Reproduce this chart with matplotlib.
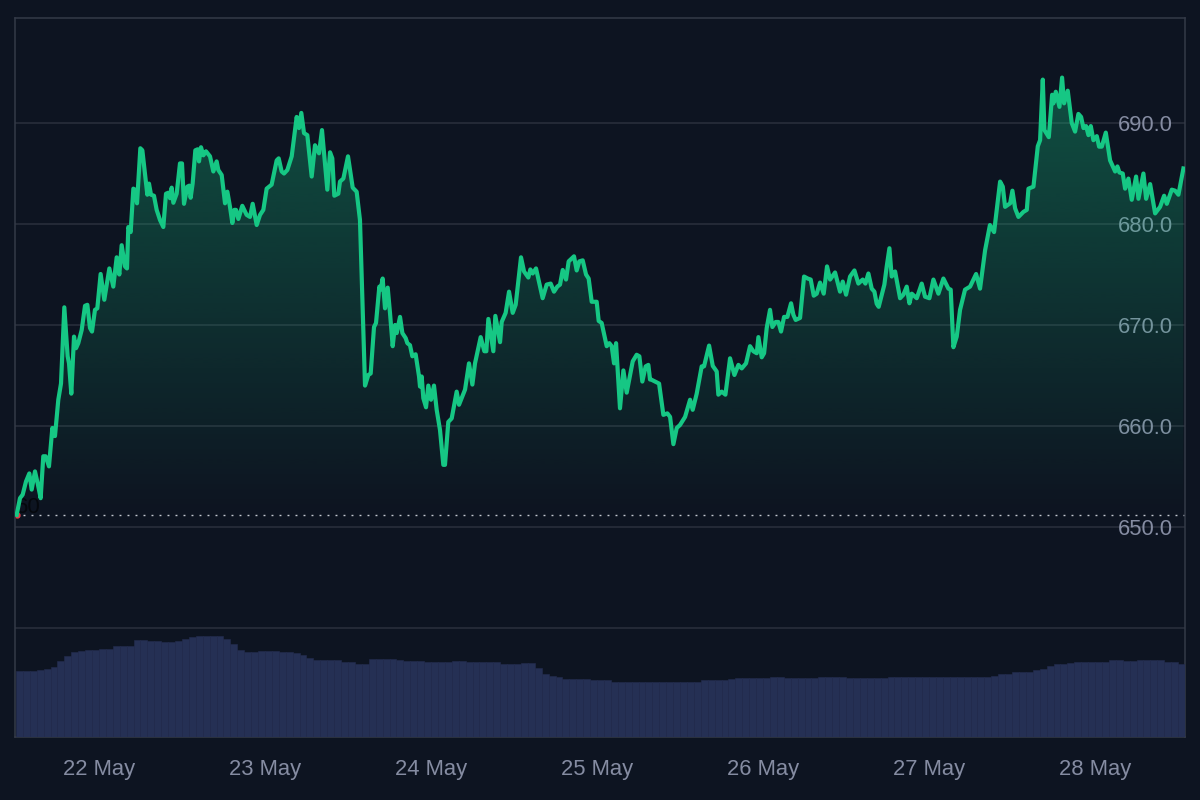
import numpy as np
import matplotlib
matplotlib.use('Agg')
import matplotlib.pyplot as plt
from matplotlib.colors import to_rgb

# price, hours counted from 22 May 00:00
hours = [
    -11.9, -11.42, -11.03, -10.55, -10.07, -9.73, -9.25, -8.86, -8.43, -8.05, -7.71, -7.23, -6.74, -6.36, -5.88, -5.49,
    -5.01, -4.53, -4.33, -4.0, -3.61, -3.32, -2.99, -2.5, -2.02, -1.68, -1.3, -1.01, -0.58, -0.24, 0.24, 0.77,
    1.5, 2.07, 2.56, 2.94, 3.28, 3.76, 4.05, 4.24, 4.58, 4.97, 5.21, 5.5, 5.98, 6.27, 6.75, 6.99,
    7.23, 7.52, 7.95, 8.34, 8.82, 9.3, 9.69, 10.03, 10.27, 10.51, 10.75, 11.23, 11.71, 12.0, 12.29, 12.77,
    13.06, 13.25, 13.54, 13.93, 14.27, 14.46, 14.75, 15.09, 15.47, 16.05, 16.53, 17.01, 17.25, 17.74, 18.22, 18.56,
    18.94, 19.28, 19.57, 19.81, 20.15, 20.72, 21.35, 21.83, 22.22, 22.8, 23.28, 23.76, 24.24, 24.96, 25.69, 25.98,
    26.41, 26.75, 27.23, 27.86, 28.58, 28.92, 29.25, 29.64, 30.12, 30.75, 31.23, 31.81, 32.24, 33.01, 33.4, 33.73,
    34.02, 34.6, 34.84, 35.33, 36.0, 36.68, 37.25, 37.73, 38.22,
    38.46, 38.94, 39.28, 39.76, 40.05, 40.53, 40.72, 41.01, 41.35, 41.74, 42.07, 42.46, 42.8, 43.04, 43.52, 43.86,
    44.34, 44.58, 44.96, 45.3, 45.78, 46.27, 46.41, 46.65, 46.89, 47.28, 47.61, 48.0, 48.43, 48.82, 49.3, 49.78,
    50.02, 50.5, 50.99, 51.71, 52.05, 52.92, 53.49, 53.98, 54.36, 55.18, 55.71, 56.0, 56.29, 57.01, 57.3, 57.98,
    58.22, 58.79, 59.28, 59.81, 60.24, 61.01, 61.45, 62.07, 62.36, 62.7, 63.18, 64.14, 64.72, 65.3, 65.78, 66.26,
    66.65, 67.04, 67.52, 67.9, 68.67, 69.06, 69.44, 69.93, 70.41, 70.79, 71.23, 71.95, 72.24, 72.67, 73.4, 73.78,
    74.12, 74.46, 74.75, 75.32, 75.81, 76.29, 77.16, 77.73, 78.12, 78.55, 79.03, 79.42, 79.66,
    79.81, 80.39, 80.97, 81.59, 82.17, 82.56, 83.04, 83.52, 84.0, 84.73, 85.45, 85.83, 86.41, 87.13, 87.47, 88.2,
    88.73, 89.3, 89.54, 90.03, 90.56, 91.23, 91.86, 92.44, 92.92, 93.54, 94.12, 94.6, 95.09, 95.33, 95.81, 96.15,
    96.53, 97.01, 97.35, 97.83, 98.22, 98.6, 99.04, 99.52, 100.05, 100.39, 100.72, 101.35, 101.93, 102.46, 102.89, 103.33,
    103.76, 104.24, 104.77, 105.25, 105.69, 106.41, 107.13, 107.52, 108.0, 108.58, 109.21, 109.78, 110.41, 110.8, 111.23, 111.71,
    112.1, 112.43, 112.72, 113.54, 113.88, 114.27, 114.6, 115.09, 115.81, 116.29, 116.77, 117.16, 117.5, 118.22, 118.94, 119.42,
    120.05, 120.63, 121.35, 122.07, 122.8, 123.13, 123.52, 124.0, 124.48, 125.2, 125.93, 126.8, 127.37, 128.1, 128.8, 129.4,
    130.27, 130.66, 130.99, 131.72, 132.05, 132.44, 132.92, 133.64, 134.13, 134.37, 135.09, 135.72, 136.05, 136.44, 136.68, 137.31,
    137.79, 137.98, 138.32, 138.85, 139.23, 139.52, 140.05, 140.63, 141.11, 141.59, 141.98, 142.32, 142.7, 143.04, 143.38, 143.76,
    144.25, 144.58, 144.97, 145.55, 146.17, 146.9, 147.23, 147.52, 148.0, 148.34, 148.82, 149.3, 149.93, 150.27, 150.99, 151.38,
    151.96, 152.68, 153.4, 153.98, 154.37, 155.09, 155.57, 156.05, 156.77,
]
price = [
    651.2, 652.85, 653.2, 654.5, 655.3, 653.7, 655.5, 654.3, 652.85, 657.0, 657.0, 656.0, 659.8, 659.0, 662.6, 664.2,
    671.75, 666.9, 666.2, 663.2, 668.85, 667.7, 668.2, 669.5, 671.9, 672.0, 669.7, 669.35, 671.5, 671.65, 675.05, 672.5,
    675.6, 673.8, 676.7, 675.0, 677.9, 675.8, 675.6, 679.7, 679.2, 683.5, 683.4, 682.05, 687.5, 687.3, 684.4, 682.9,
    684.0, 682.9, 682.8, 681.4, 680.4, 679.7, 683.0, 683.1, 682.55, 683.6, 682.1, 683.0, 686.0, 686.0, 682.0, 683.7,
    683.8, 682.6, 684.0, 687.3, 687.4, 686.2, 687.6, 686.8, 687.2, 686.7, 685.2, 686.2, 685.35, 684.85, 682.05, 683.2,
    681.7, 680.1, 681.4, 681.4, 680.5, 681.8, 680.9, 680.7, 682.0, 679.9, 680.9, 681.4, 683.5, 683.9, 686.3, 686.5,
    685.2, 685.0, 685.35, 686.7, 690.6, 689.5, 691.0, 689.0, 688.8, 684.7, 687.8, 687.0, 689.3, 683.4, 687.1, 686.5,
    682.8, 683.0, 684.2, 684.5, 686.7, 683.6, 683.2, 680.4, 669.2,
    664.0, 665.05, 665.2, 669.8, 670.2, 673.8, 673.5, 674.6, 671.65, 673.7, 671.2, 667.9, 670.0, 669.2, 670.8, 669.2,
    668.7, 668.2, 668.0, 666.9, 667.1, 664.9, 663.9, 664.9, 662.75, 661.85, 664.0, 662.6, 664.0, 661.6, 659.6, 656.15,
    656.15, 660.4, 660.75, 663.4, 662.1, 663.6, 666.2, 664.1, 666.2, 668.8, 667.4, 667.4, 670.6, 667.4, 670.9, 668.3,
    670.3, 671.2, 673.3, 671.2, 672.0, 676.7, 675.3, 674.7, 675.5, 675.1, 675.6, 672.65, 674.0, 674.1, 673.3, 673.8,
    674.0, 675.45, 674.5, 676.3, 676.8, 675.4, 676.3, 676.4, 675.0, 674.6, 672.3, 672.3, 670.4, 670.2, 667.9, 668.2,
    667.9, 666.2, 668.2, 661.75, 665.5, 663.3, 666.4, 667.05, 666.9, 664.4, 665.9, 666.05, 664.6,
    664.6, 664.4, 664.2, 661.1, 661.25, 660.9, 658.2, 659.8, 660.1, 660.9, 662.6, 661.6, 663.2, 665.9, 665.9, 667.96,
    665.95, 665.4, 663.1, 663.4, 663.1, 666.7, 665.05, 666.05, 665.7, 666.2, 667.9, 667.4, 667.2, 668.8, 666.8, 667.2,
    669.7, 671.5, 669.8, 670.3, 670.3, 669.35, 670.8, 670.8, 672.15, 671.0, 670.5, 670.7, 674.8, 674.6, 674.5, 672.9,
    673.1, 674.2, 673.1, 675.8, 674.5, 675.2, 673.3, 674.3, 673.0, 674.8, 675.4, 674.1, 674.5, 674.1, 675.1, 673.6,
    673.3, 672.1, 671.8, 674.0, 675.8, 677.6, 674.8, 675.3, 672.65, 673.0, 673.8, 672.15, 673.1, 672.65, 674.1, 672.8,
    672.65, 674.5, 673.1, 674.6, 673.6, 673.5, 667.8, 668.85, 671.5, 673.5, 673.8, 675.05, 673.6, 677.4, 679.9, 679.2,
    684.2, 683.7, 681.7, 682.05, 683.3, 681.55, 680.7, 681.2, 681.4, 683.5, 683.7, 687.7, 688.3, 694.3, 689.3, 688.6,
    692.8, 691.95, 693.1, 691.6, 694.5, 691.95, 693.2, 690.0, 689.15, 690.9, 690.6, 689.5, 689.7, 688.8, 689.7, 688.3,
    688.7, 687.66, 687.66, 689.05, 686.3, 685.2, 685.7, 685.1, 685.0, 683.5, 684.5, 682.4, 684.7, 682.5, 685.0, 682.5,
    683.95, 681.05, 681.7, 682.8, 682.0, 683.4, 683.3, 682.9, 685.5,
]
ref_price = 651.2

# hourly volume, first bar at hour -12
volume = [
    .665, .665, .665, .675, .68, .705, .765, .81, .85, .865, .87, .875,
    .88, .885, .91, .91, .915, .97, .97, .965, .96, .95, .955, .96,
    .98, 1.00, 1.01, 1.01, 1.01, 1.01, .98, .93, .87, .855, .85, .86,
    .86, .86, .855, .85, .84, .82, .79, .77, .77, .77, .77, .753,
    .75, .733, .733, .78, .783, .783, .78, .77, .76, .76, .76, .75,
    .75, .75, .75, .763, .763, .755, .75, .75, .75, .75, .733, .733,
    .733, .74, .745, .69, .63, .615, .605, .583, .583, .583, .583, .57,
    .57, .57, .555, .55, .55, .55, .55, .55, .55, .55, .55, .55,
    .55, .55, .55, .57, .57, .57, .57, .585, .59, .59, .59, .59,
    .59, .60, .603, .59, .59, .59, .59, .59, .60, .603, .603, .603,
    .59, .59, .59, .59, .59, .59, .60, .60, .60, .60, .60, .60,
    .60, .60, .60, .60, .60, .60, .605, .605, .605, .61, .63, .63,
    .653, .653, .653, .67, .68, .71, .73, .73, .74, .753, .753, .753,
    .753, .753, .77, .77, .76, .76, .77, .77, .77, .77, .75, .75,
    .733, .733,
]
volume_hours = list(range(-12, 158))

day_ticks = [0, 24, 48, 72, 96, 120, 144]
day_labels = ['22 May', '23 May', '24 May', '25 May', '26 May', '27 May', '28 May']
price_ticks = [640, 650, 660, 670, 680, 690]
price_labels = ['', '650.0', '660.0', '670.0', '680.0', '690.0']

BG = '#0d1421'
GREEN = '#16c784'
GRID = '#2a303d'
BORDER = '#343a48'
TEXT = '#858ca2'

plt.rcParams['font.family'] = ['Liberation Sans', 'DejaVu Sans']

fig = plt.figure(figsize=(12, 8), dpi=100, facecolor=BG)
rect = [15 / 1200, 63 / 800, 1170 / 1200, 719 / 800]

# volume on its own scale, behind the price axes
ax2 = fig.add_axes(rect, zorder=2)
ax2.set_xlim(-12.14, 157.0)
ax2.set_ylim(0, 7.19)
ax2.bar(volume_hours, volume, width=1.0, align='edge', color='#253054', edgecolor='#232c4e', lw=0.4)
ax2.axis('off')

ax = fig.add_axes(rect, facecolor=BG, zorder=1)
ax.set_xlim(-12.14, 157.0)
ax.set_ylim(629.2, 700.4)

# gridlines and labels stay under the fill, labels look tinted over it
ax.set_axisbelow(True)
ax.yaxis.tick_right()
ax.set_yticks(price_ticks, price_labels)
ax.set_xticks(day_ticks, day_labels)
ax.grid(axis='y', color=GRID, lw=1.1)
ax.tick_params(axis='y', length=0, pad=-8.5, labelsize=15.8, labelcolor=TEXT)
ax.tick_params(axis='x', length=0, pad=16, labelsize=15.8, labelcolor=TEXT)
for lab in ax.get_yticklabels():
    lab.set_ha('right')
    lab.set_va('center_baseline')
for spine in ax.spines.values():
    spine.set_color(BORDER)
    spine.set_linewidth(1.1)

# gradient under the line
poly = ax.fill_between(hours, price, ref_price, color='none', lw=0)
rgb = to_rgb(GREEN)
grad = np.zeros((256, 1, 4))
grad[:, :, :3] = rgb
grad[:, 0, 3] = np.linspace(0.34, 0.0, 256)
img = ax.imshow(grad, extent=[hours[0], hours[-1], ref_price, max(price)], aspect='auto',
                zorder=1, interpolation='bilinear')
img.set_clip_path(poly.get_paths()[0], transform=ax.transData)
ax.set_xlim(-12.14, 157.0)
ax.set_ylim(629.2, 700.4)

ax.axhline(ref_price, color='#c4c8d0', lw=1.0, ls=(0, (1.4, 4.36)), zorder=2)
ax.plot(hours[0], ref_price, 'o', color='#ea3943', ms=3.5, zorder=2)
ax.text(-8.5, 651.9, '60', color='#05080d', fontsize=16, ha='right', va='center', zorder=2, clip_on=True)
ax.plot(hours, price, color=GREEN, lw=3.0, solid_joinstyle='round', zorder=3)

fig.savefig('out.png', dpi=100, facecolor=BG)
